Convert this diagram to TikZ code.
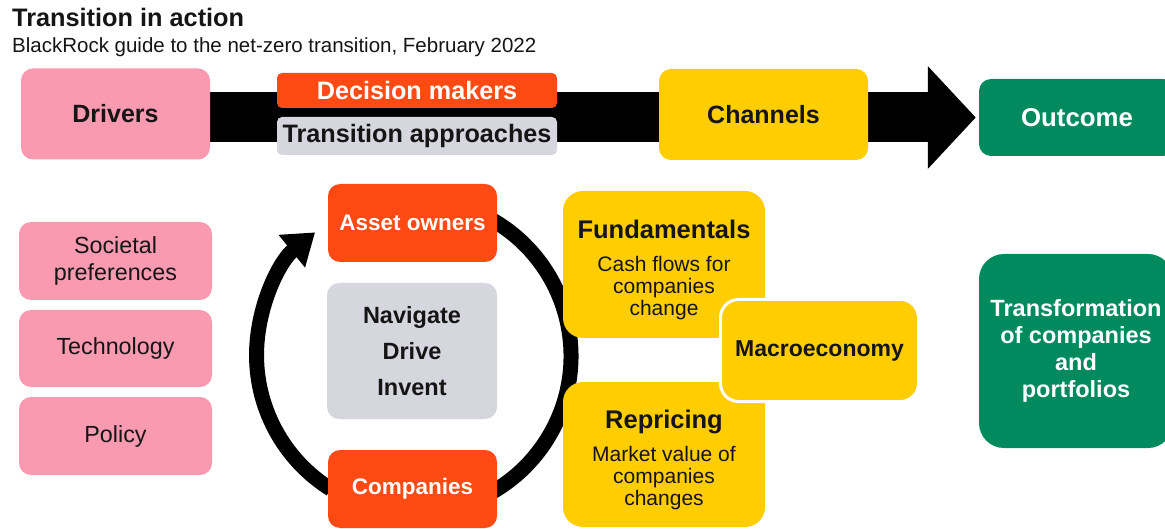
\documentclass[tikz,border=0pt]{standalone}
\usepackage{fontspec}
\setmainfont{Liberation Sans}
\usetikzlibrary{arrows.meta,backgrounds}
\definecolor{bpink}{HTML}{F99AB1}
\definecolor{borange}{HTML}{FF4A14}
\definecolor{bgrey}{HTML}{D6D6DF}
\definecolor{byellow}{HTML}{FFCD00}
\definecolor{bgreen}{HTML}{008A5E}
\definecolor{btext}{HTML}{151515}
\newcommand\fsz[2]{\fontsize{#1}{#2}\selectfont}
\newcommand\subtxt[1]{{\mdseries\fsz{21}{22}\begin{tabular}[t]{@{}c@{}}#1\end{tabular}}}
\begin{document}
\begin{tikzpicture}[x=1pt,y=1pt,
  card/.style={rounded corners=12pt, inner sep=0pt, align=center, text=btext},
  headbox/.style={card, font=\bfseries\fsz{25}{29}},
  smallbox/.style={card, rounded corners=5pt, font=\bfseries\fsz{25.2}{29}},
  driverbox/.style={card, fill=bpink, minimum width=193pt, font=\fsz{23.3}{27}},
  actorbox/.style={card, fill=borange, text=white, minimum width=169pt, minimum height=78pt, font=\bfseries\fsz{22.5}{26}},
  chanbox/.style={card, fill=byellow, rounded corners=20pt, minimum width=202pt, font=\bfseries\fsz{25.5}{28}},
  bigarrow/.style={line width=50pt, -{Triangle[length=48pt,width=100pt]}},
  cyclearc/.style={line width=15pt},
  cyclearrow/.style={line width=15pt, -{Triangle[length=30pt,width=40pt]}}
]
\useasboundingbox (0,0) rectangle (1165,-529);

% titles
\node[anchor=base west, inner sep=0pt, font=\bfseries\fsz{25.3}{30}, text=btext] (title) at (12,-27) {Transition in action};
\node[anchor=base west, inner sep=0pt, font=\fsz{20.5}{22}, text=btext] (subtitle) at (12,-53) {BlackRock guide to the net-zero transition, February 2022};

% top row
\node[headbox, fill=bpink, minimum width=189pt, minimum height=91pt] (drivers) at (115.5,-114) {Drivers};
\node[smallbox, fill=borange, text=white, minimum width=280pt, minimum height=35pt] (dm) at (417,-90.5) {Decision makers};
\node[smallbox, fill=bgrey, minimum width=280pt, minimum height=38pt] (ta) at (417,-136) {Transition approaches};
\node[headbox, fill=byellow, minimum width=209pt, minimum height=91pt] (channels) at (763.5,-114.5) {Channels};
\node[headbox, fill=bgreen, text=white, minimum width=196pt, minimum height=77pt, font=\bfseries\fsz{25.8}{29}] (outcome) at (1077,-117.5) {Outcome};

% drivers column
\node[driverbox, minimum height=78pt] (soc) at (115.5,-261) {Societal\\preferences};
\node[driverbox, minimum height=77pt] (tech) at (115.5,-348.5) {Technology};
\node[driverbox, minimum height=78pt] (policy) at (115.5,-436) {Policy};

% cycle
\coordinate (cyc) at (414,-356);
\node[actorbox] (owners) at (412.5,-223) {Asset owners};
\node[actorbox] (companies) at (412.5,-489) {Companies};
\node[card, fill=bgrey, minimum width=170pt, minimum height=136pt, font=\bfseries\fsz{23.5}{36}] (nav) at (412,-351) {Navigate\\Drive\\Invent};

% channels
\node[chanbox, minimum height=147pt] (fund) at (664,-264.5)
  {\rule{0pt}{31pt}Fundamentals\\[5pt]\subtxt{Cash flows for\\companies\\change}};
\node[chanbox, minimum height=145pt] (repr) at (664,-454.5)
  {\rule{0pt}{31pt}Repricing\\[5pt]\subtxt{Market value of\\companies\\changes}};
\node[card, fill=byellow, draw=white, line width=3pt, rounded corners=18pt, minimum width=198pt, minimum height=102pt, font=\bfseries\fsz{23}{27}] (macro) at (819.5,-350.5) {Macroeconomy};

% outcome
\node[card, fill=bgreen, text=white, rounded corners=25pt, minimum width=194pt, minimum height=194pt, font=\bfseries\fsz{23.5}{27}] (transf) at (1076,-351) {Transformation\\of companies\\and\\portfolios};

\begin{scope}[on background layer]
  \draw[bigarrow, shorten >=3pt] (drivers.east |- outcome.west) -- (outcome.west);
  \draw[cyclearc] (cyc) ++(62:157) arc[start angle=62, end angle=-62, radius=157];
  \draw[cyclearrow] (cyc) ++(238:157) arc[start angle=238, end angle=129, radius=158];
\end{scope}
\end{tikzpicture}
\end{document}
